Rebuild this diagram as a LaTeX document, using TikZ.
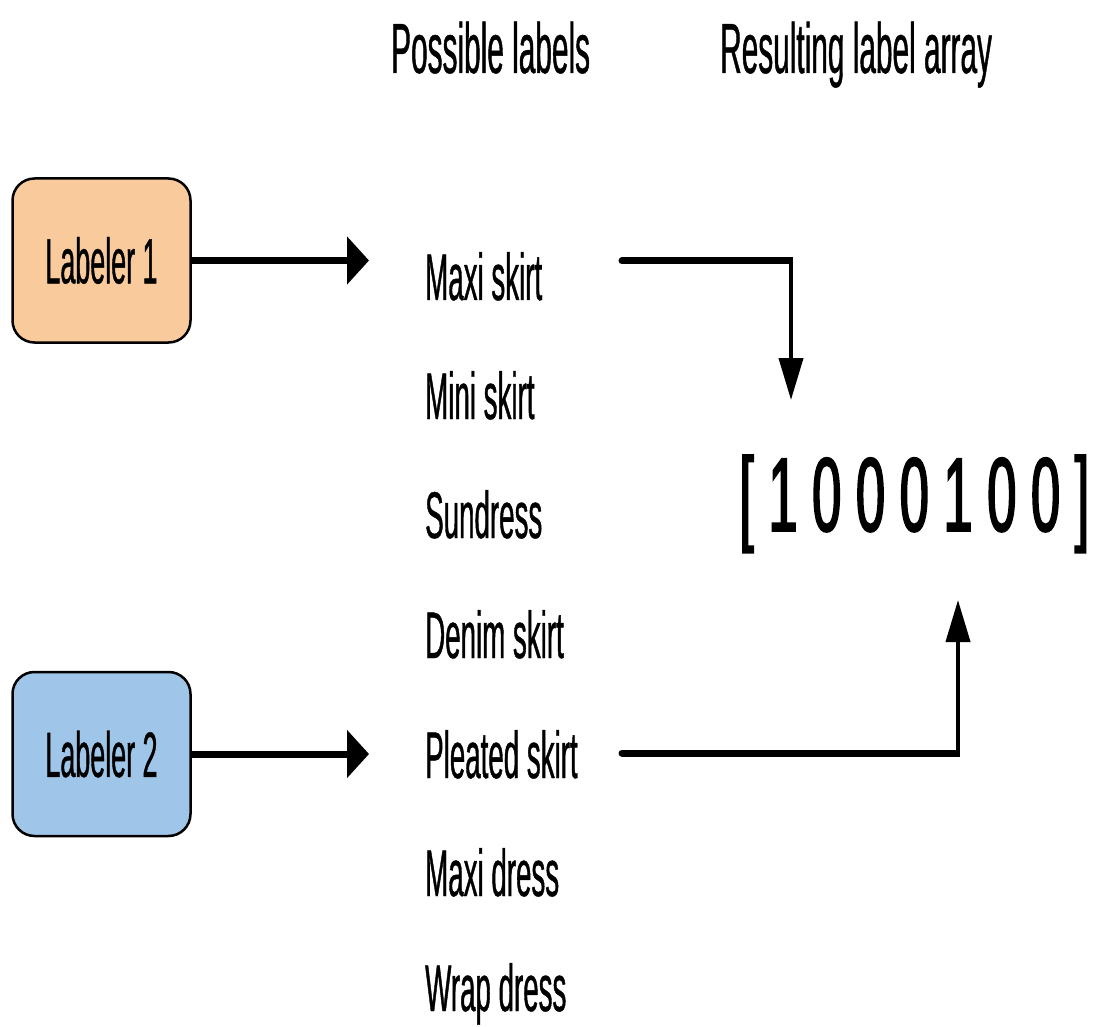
\documentclass[tikz,border=0pt]{standalone}
\usepackage{fontspec}
\setmainfont{Liberation Sans}
\newfontfamily\cond{Liberation Sans}[FakeStretch=0.42,FakeBold=0.6]
\newfontfamily\condd{Liberation Sans}[FakeStretch=0.5,FakeBold=1.6]
\usetikzlibrary{arrows.meta}
\definecolor{peach}{HTML}{F9CB9C}
\definecolor{skyblue}{HTML}{9FC5E8}
\begin{document}
\begin{tikzpicture}[x=1pt,y=-1pt]
\tikzset{
  labeler/.style={draw=black, line width=2.5pt, rounded corners=22pt,
    minimum width=178pt, minimum height=164pt, inner sep=0pt,
    font=\cond\fontsize{64}{64}\selectfont},
  item/.style={anchor=base west, inner sep=0pt, font=\cond\fontsize{66}{66}\selectfont},
  head/.style={anchor=base west, inner sep=0pt, font=\cond\fontsize{71}{71}\selectfont},
  arraytext/.style={anchor=base west, inner sep=0pt, font=\condd\fontsize{105}{105}\selectfont},
  harrow/.style={line width=7pt, -{Triangle[length=22pt,width=47pt]}},
  hline/.style={line width=7pt, line cap=round},
  varrow/.style={line width=4pt, -{Triangle[length=42pt,width=24pt]}}
}
\useasboundingbox (0,0) rectangle (1093,1027);

% headers
\node[head] (h1) at (391,73) {Possible labels};
\node[head] (h2) at (720,73) {Resulting label array};

% labelers
\node[labeler, fill=peach] (l1) at (101.5,260.5) {Labeler 1};
\node[labeler, fill=skyblue] (l2) at (101.5,754) {Labeler 2};

% possible labels
\node[item] (i1) at (425,300) {Maxi skirt};
\node[item] (i2) at (425,419) {Mini skirt};
\node[item] (i3) at (425,538) {Sundress};
\node[item] (i4) at (425,658) {Denim skirt};
\node[item] (i5) at (425,778) {Pleated skirt};
\node[item] (i6) at (425,896) {Maxi dress};
\node[item] (i7) at (425,1011) {Wrap dress};

% result array
\node[arraytext] (arr) at (739,531) {[ 1 0 0 0 1 0 0 ]};

% labeler arrows
\coordinate (t1) at (369,260.5);
\coordinate (t2) at (369,754);
\draw[harrow] (l1.east) -- (t1);
\draw[harrow] (l2.east) -- (t2);

% elbow 1
\coordinate (e1s) at (622,261);
\coordinate (e1c) at (789,261);
\coordinate (e1v) at (791,257.5);
\coordinate (e1t) at (791,400);
\draw[hline] (e1s) -- (e1c);
\draw[varrow] (e1v) -- (e1t);

% elbow 2
\coordinate (e2s) at (622,753);
\coordinate (e2c) at (956,753);
\coordinate (e2v) at (958,756.5);
\coordinate (e2t) at (958,600);
\draw[hline] (e2s) -- (e2c);
\draw[varrow] (e2v) -- (e2t);
\end{tikzpicture}
\end{document}
